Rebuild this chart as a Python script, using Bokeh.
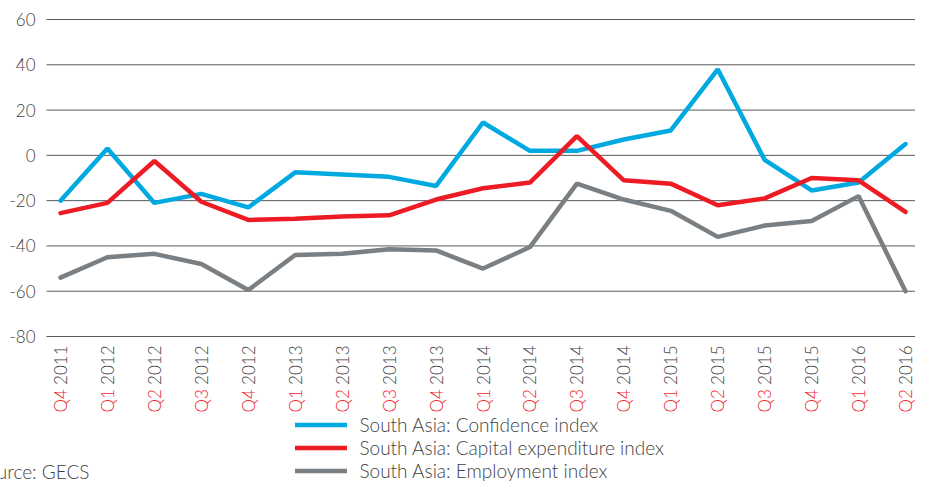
import math
from bokeh.plotting import figure
from bokeh.models import Range1d, Legend, LegendItem, Label, ColumnDataSource
from bokeh.core.properties import value
from bokeh.embed import file_html
from bokeh.resources import INLINE

# ---------------- data ----------------
quarters = ["Q4", "Q1", "Q2", "Q3", "Q4", "Q1", "Q2", "Q3", "Q4", "Q1",
            "Q2", "Q3", "Q4", "Q1", "Q2", "Q3", "Q4", "Q1", "Q2"]
years = ["2011", "2012", "2012", "2012", "2012", "2013", "2013", "2013", "2013", "2014",
         "2014", "2014", "2014", "2015", "2015", "2015", "2015", "2016", "2016"]
confidence = [-20, 3, -21, -17, -23, -7.5, -8.5, -9.5, -13.5, 14.5,
              2, 2, 7, 11, 38, -2, -15.5, -12, 5]
capex = [-25.5, -21, -2.5, -20.5, -28.5, -28, -27, -26.5, -19.5, -14.5,
         -12, 8.5, -11, -12.5, -22, -19, -10, -11, -25]
employment = [-54, -45, -43.5, -48, -59.5, -44, -43.5, -41.5, -42, -50,
              -40.5, -12.5, -19.5, -24.5, -36, -31, -29, -18, -60]
y_ticks = [-80, -60, -40, -20, 0, 20, 40, 60]
y_tick_labels = ["-80", "-60", "-40", "-20", "0", "20", "40", "60"]
series_names = ["South Asia: Confidence index",
                "South Asia: Capital expenditure index",
                "South Asia: Employment index"]
source_text = "Source: GECS"

# ---------------- layout (pixels) ----------------
W, H = 915, 482
GRID_LEFT = 46                 # px where gridlines start
STEP = 845 / 18                # px between quarters
FIRST = 60                     # px of the first quarter
PPU = 317 / 140                # px per y unit
TOP_PAD = 19                   # px from top to y=60

x0 = -FIRST / STEP
x1 = x0 + W / STEP
y1 = 60 + TOP_PAD / PPU
y0 = y1 - H / PPU
gx_left = x0 + GRID_LEFT / STEP

FONT = "Lato Light, Lato"
TXT = "#3f3f3f"
BLUE = "#00a9e0"
RED = "#ed1c24"
GREY = "#7a7f83"
QRED = "#f0262d"

idx = list(range(len(quarters)))

p = figure(width=W, height=H, output_backend="svg", toolbar_location=None,
           x_axis_location=None, y_axis_location=None,
           x_range=Range1d(x0, x1), y_range=Range1d(y0, y1),
           min_border_left=0, min_border_right=0, min_border_top=0, min_border_bottom=0)
p.outline_line_color = None
p.background_fill_color = "white"
p.border_fill_color = "white"
p.xgrid.grid_line_color = None
p.ygrid.grid_line_color = None

# horizontal gridlines + y tick labels
grid_src = ColumnDataSource(dict(y=y_ticks, lab=y_tick_labels,
                                 xa=[gx_left] * len(y_ticks), xb=[x1] * len(y_ticks)))
p.segment(x0="xa", y0="y", x1="xb", y1="y", source=grid_src,
          line_color="#595959", line_width=1)
p.text(x="xa", y="y", text="lab", source=grid_src, x_offset=-11,
       text_align="right", text_baseline="middle",
       text_font=value(FONT), text_font_size="17px", text_color=TXT)

src = ColumnDataSource(dict(x=idx, conf=confidence, capex=capex, emp=employment,
                            q=quarters, yr=years, base=[y_ticks[0]] * len(idx)))

r_conf = p.line("x", "conf", source=src, line_color=BLUE, line_width=4.5, line_cap="round")
r_cap = p.line("x", "capex", source=src, line_color=RED, line_width=4.5, line_cap="round")
r_emp = p.line("x", "emp", source=src, line_color=GREY, line_width=4.5, line_cap="round")

# category labels (two-coloured, rotated)
p.text(x="x", y="base", text="yr", source=src, angle=math.pi / 2,
       text_align="right", text_baseline="middle", y_offset=9,
       text_font=value(FONT), text_font_size="17px", text_color=TXT)
p.text(x="x", y="base", text="q", source=src, angle=math.pi / 2,
       text_align="left", text_baseline="middle", y_offset=76,
       text_font=value(FONT), text_font_size="17px", text_color=QRED)

legend = Legend(items=[LegendItem(label=series_names[0], renderers=[r_conf]),
                       LegendItem(label=series_names[1], renderers=[r_cap]),
                       LegendItem(label=series_names[2], renderers=[r_emp])],
                location=(294.5, 0), orientation="vertical",
                glyph_width=52, glyph_height=19, label_height=19,
                label_standoff=13, spacing=0, padding=0, margin=0,
                border_line_color=None, background_fill_alpha=0,
                label_text_font=FONT, label_text_font_size="19px",
                label_text_color=TXT)
p.add_layout(legend)

p.add_layout(Label(x=89, y=11.5, x_units="screen", y_units="screen", text=source_text,
                   text_font=FONT, text_font_size="19px", text_color=TXT,
                   text_align="right", text_baseline="middle"))

open("out.html", "w").write(file_html(p, INLINE))
